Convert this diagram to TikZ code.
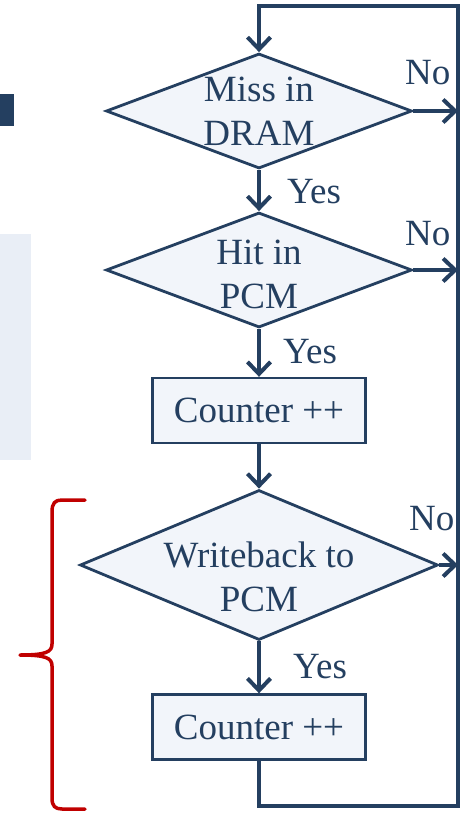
\documentclass[tikz,border=0pt]{standalone}
\usepackage{fontspec}
\setmainfont{Liberation Serif}
\usetikzlibrary{shapes.geometric,arrows.meta}
\definecolor{navy}{HTML}{243F60}
\definecolor{paleblue}{HTML}{F2F5FA}
\definecolor{sidebar}{HTML}{E9EEF6}
\definecolor{bracered}{HTML}{C00000}
\tikzset{
  lbl/.style={font=\fontsize{37}{44}\selectfont, text=navy, inner sep=0pt},
  decision/.style={shape=diamond, draw=navy, fill=paleblue, line width=2.8pt,
    inner sep=0pt, minimum width=#1, minimum height=115pt},
  action/.style={draw=navy, fill=paleblue, line width=2.4pt, inner sep=0pt,
    minimum width=213pt, minimum height=65pt},
  conn/.style={draw=navy, line width=4pt, line join=miter},
  arr/.style={conn, -{Straight Barb[length=12pt,width=23pt]}},
  brace/.style={draw=bracered, line width=3.5pt, line cap=round, line join=round},
}
\begin{document}
\begin{tikzpicture}[x=1pt,y=-1pt]
\useasboundingbox (0,0) rectangle (460,813);

% side decorations
\fill[navy] (0,94) rectangle (14,126);
\fill[sidebar] (0,234) rectangle (31,460);

% flow chart boxes
\node[decision=306pt] (d1) at (259,111) {};
\node[lbl, align=center] (t1) at (259,111) {Miss in\\DRAM};
\node[decision=306pt] (d2) at (259,270) {};
\node[lbl, align=center] (t2) at (259,274) {Hit in\\PCM};
\node[action] (c1) at (259,410.5) {};
\node[lbl] (tc1) at (c1) {Counter ++};
\node[decision=358pt, minimum height=150pt] (d3) at (259,565) {};
\node[lbl, align=center] (t3) at (259,577) {Writeback to\\PCM};
\node[action] (c2) at (259,727) {};
\node[lbl] (tc2) at (c2) {Counter ++};

% return loop on the right
\coordinate (br) at (458,806);
\coordinate (tr) at (458,6);
\draw[arr] (c2.south) |- (br) -- (tr) -| (d1.north);

% yes branches
\draw[arr] (d1.south) -- (d2.north);
\draw[arr] (d2.south) -- (c1.north);
\draw[arr] (c1.south) -- (d3.north);
\draw[arr] (d3.south) -- (c2.north);

% no branches
\draw[arr] (d1.east) -- (d1.east -| tr);
\draw[arr] (d2.east) -- (d2.east -| tr);
\draw[arr] (d3.east) -- (d3.east -| tr);

% branch labels
\node[lbl, anchor=base west] (y1) at (287,203) {Yes};
\node[lbl, anchor=base west] (y2) at (283,363) {Yes};
\node[lbl, anchor=base west] (y3) at (293,678) {Yes};
\node[lbl, anchor=base west] (n1) at (405,85) {No};
\node[lbl, anchor=base west] (n2) at (405,245) {No};
\node[lbl, anchor=base west] (n3) at (409,530) {No};

% red brace
\draw[brace] (85,500) -- (62,500) .. controls (55,500) and (52,503) .. (52,512)
  -- (52,644) .. controls (52,652) and (46,655) .. (20,655)
  .. controls (46,655) and (52,658) .. (52,666)
  -- (52,798) .. controls (52,806) and (55,809) .. (62,809) -- (85,809);
\end{tikzpicture}
\end{document}
